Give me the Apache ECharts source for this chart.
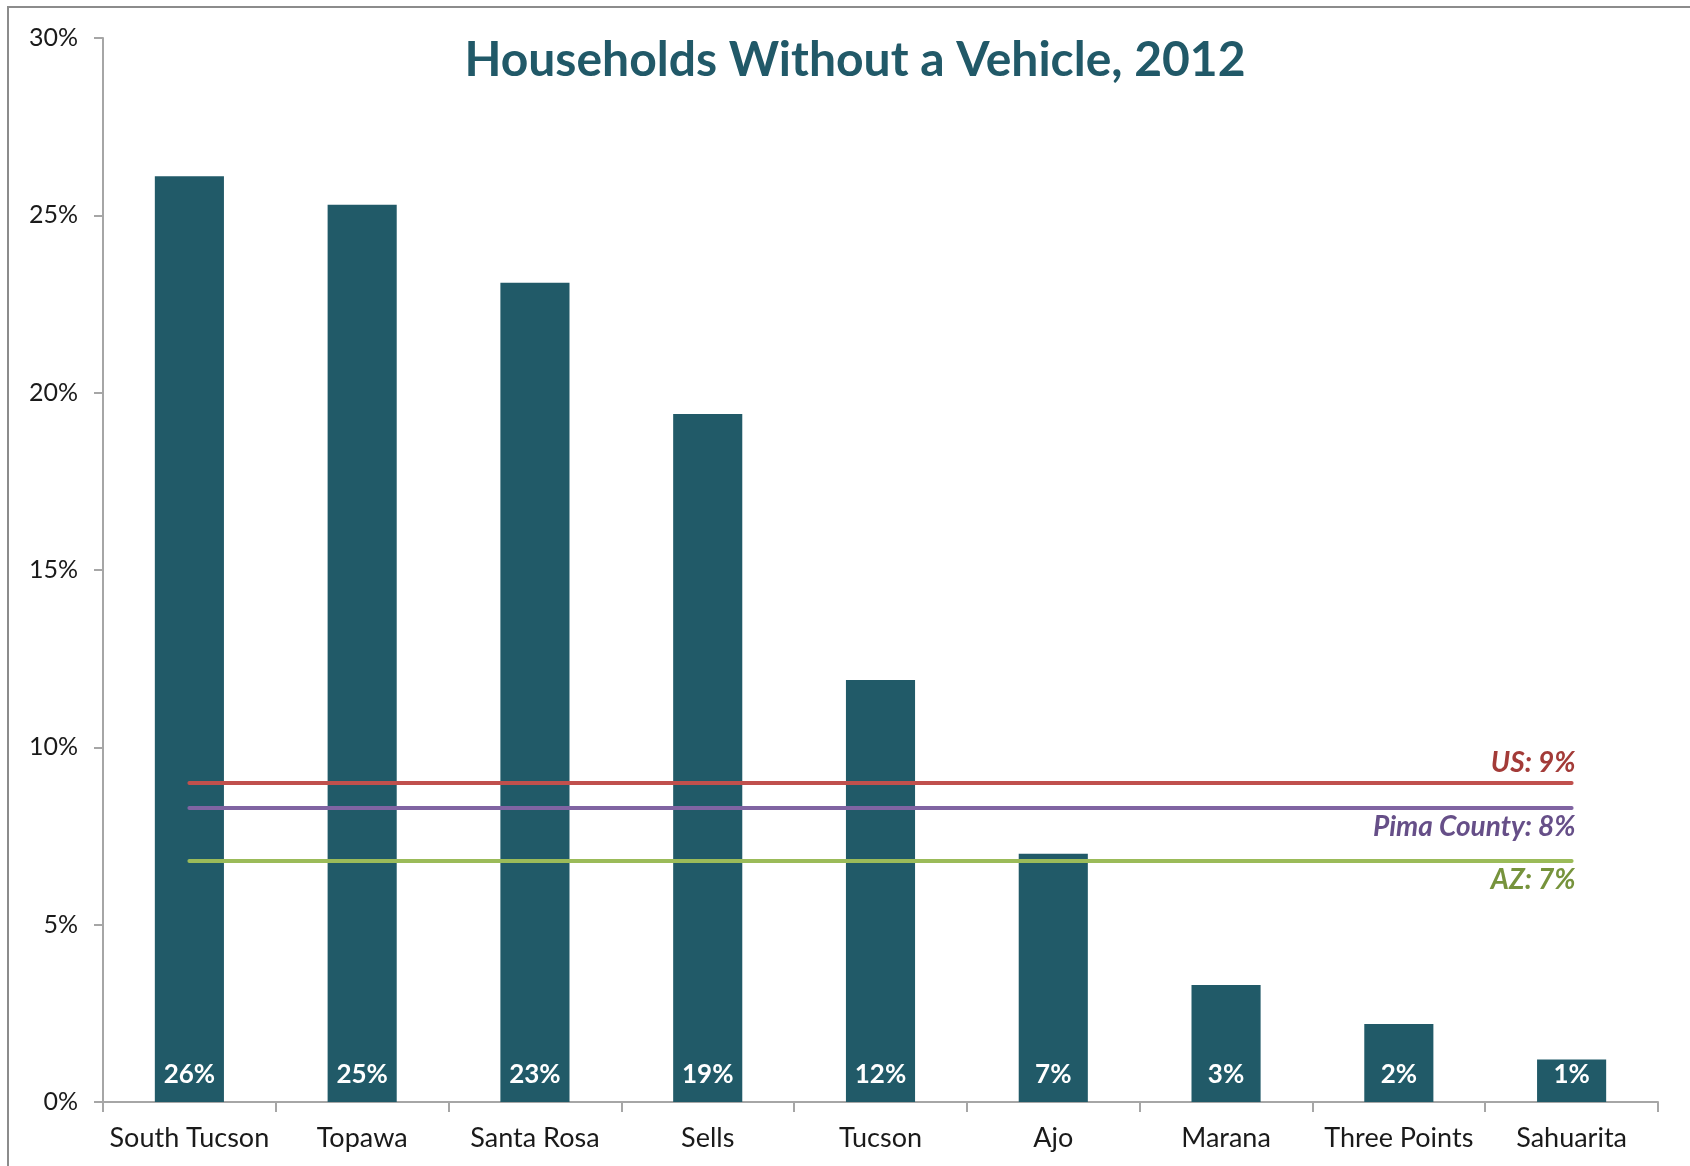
<!DOCTYPE html>
<html>
<head>
<meta charset="utf-8">
<script src="https://cdn.jsdelivr.net/npm/echarts@6/dist/echarts.min.js"></script>
<style>
html,body{margin:0;padding:0;background:#fff;}
#chart{width:1690px;height:1166px;}
</style>
</head>
<body>
<div id="chart"></div>
<script>
const categories = ['South Tucson','Topawa','Santa Rosa','Sells','Tucson','Ajo','Marana','Three Points','Sahuarita'];
const values = [26.1, 25.3, 23.1, 19.4, 11.9, 7.0, 3.3, 2.2, 1.2];
const valueLabels = ['26%','25%','23%','19%','12%','7%','3%','2%','1%'];
const refNames = ['US: 9%','Pima County: 8%','AZ: 7%'];
const refValues = [9.0, 8.3, 6.8];
const refColors = ['#C0504D','#8064A2','#9BBB59'];
const refTextColors = ['#A33B38','#664F88','#76933C'];
const refLabelPos = ['insideEndTop','insideEndBottom','insideEndBottom'];
const yTicks = [0,5,10,15,20,25,30];

const FONT = 'Lato, "Noto Sans", sans-serif';
const chart = echarts.init(document.getElementById('chart'), null, {renderer:'canvas'});

const markLineData = refValues.map((v,i)=>[
  {coord:[categories[0], v], lineStyle:{color:refColors[i], width:4, type:'solid', cap:'round'},
   label:{show:true, position:refLabelPos[i], formatter:refNames[i], color:refTextColors[i],
          fontFamily:FONT, fontSize:28, fontWeight:'bold', fontStyle:'italic', distance:5,
          offset:[9, i===0 ? -1 : 0]}},
  {coord:[categories[categories.length-1], v]}
]);

chart.setOption({
  animation:false,
  backgroundColor:'#fff',
  title:{
    text:'Households Without a Vehicle, 2012',
    left:850, top:32, textAlign:'center',
    textStyle:{color:'#215968', fontFamily:FONT, fontSize:48, fontWeight:'bold'}
  },
  graphic:[{type:'rect', shape:{x:8, y:7, width:1800, height:1300},
    style:{fill:'none', stroke:'#8C8C8C', lineWidth:2}, silent:true, z:-1}],
  grid:{left:103, right:32, top:38, bottom:64},
  xAxis:{
    type:'category', data:categories,
    axisLine:{lineStyle:{color:'#A6A6A6', width:2}},
    axisTick:{show:true, length:10, lineStyle:{color:'#A6A6A6', width:2}},
    axisLabel:{color:'#1a1a1a', fontFamily:FONT, fontSize:27, margin:23, interval:0}
  },
  yAxis:{
    type:'value', min:0, max:30, interval:5,
    splitLine:{show:false},
    axisLine:{show:true, lineStyle:{color:'#A6A6A6', width:2}},
    axisTick:{show:true, length:9, lineStyle:{color:'#A6A6A6', width:2}},
    axisLabel:{color:'#1a1a1a', fontFamily:FONT, fontSize:25, margin:25,
      formatter:v=> yTicks.includes(v) ? v+'%' : ''}
  },
  series:[{
    type:'bar', data:values, barWidth:'40%',
    itemStyle:{color:'#215A68'},
    label:{show:true, position:'insideBottom', distance:14,
      formatter:p=>valueLabels[p.dataIndex], color:'#fff',
      fontFamily:FONT, fontSize:26, fontWeight:'bold'},
    markLine:{symbol:['none','none'], silent:true, data:markLineData}
  }]
});
</script>
</body>
</html>
